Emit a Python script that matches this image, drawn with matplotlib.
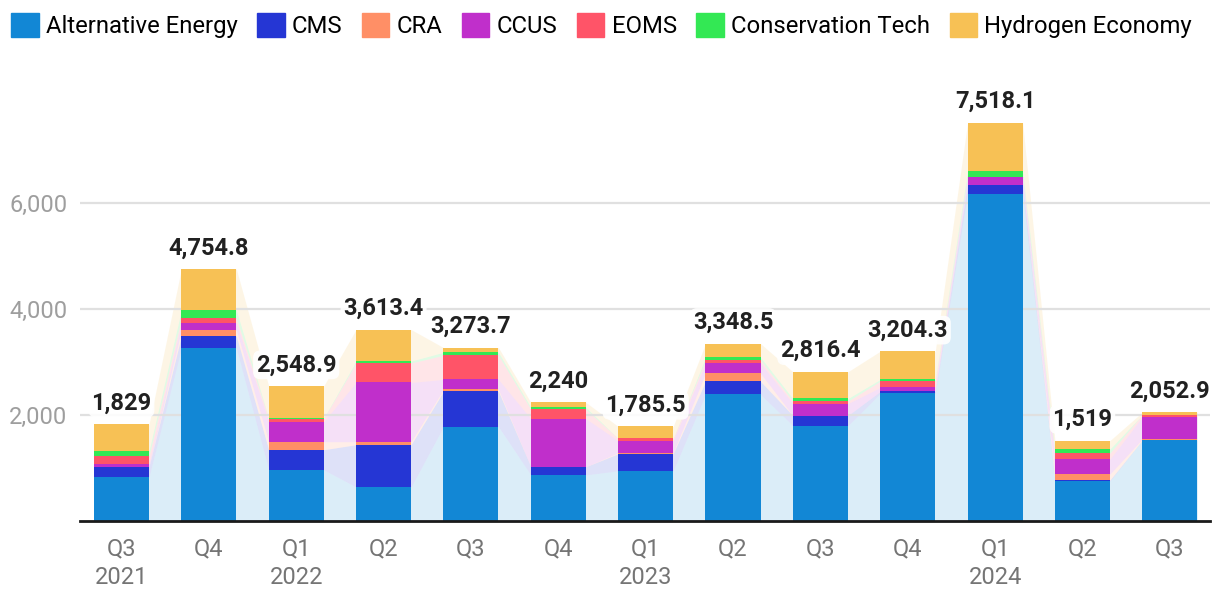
import matplotlib
matplotlib.use("Agg")
import matplotlib.pyplot as plt
from matplotlib.patches import Rectangle
import numpy as np

plt.rcParams['font.family'] = ['Roboto', 'DejaVu Sans']

quarters = ["Q3\n2021", "Q4", "Q1\n2022", "Q2", "Q3", "Q4", "Q1\n2023", "Q2", "Q3", "Q4", "Q1\n2024", "Q2", "Q3"]

series_names = ["Alternative Energy", "CMS", "CRA", "CCUS", "EOMS", "Conservation Tech", "Hydrogen Economy"]
colors = ["#1287D5", "#2536D4", "#FF8F66", "#C02FCB", "#FF5468", "#33E854", "#F7C155"]

alternative_energy = [834, 3259, 966, 644, 1781, 872, 948, 2388, 1800, 2407, 6180, 755, 1528]
cms = [190, 228, 379, 796, 664, 151, 322, 246, 190, 38, 169, 19, 0]
cra = [0, 113, 152, 57, 37, 0, 19, 152, 0, 0, 0, 113, 19]
ccus = [57, 133, 379, 1118, 190, 910, 227, 189, 227, 75, 151, 283, 415]
eoms = [150, 89, 57, 366, 455, 176, 44, 57, 44, 120, 0, 113, 44]
conservation_tech = [95, 158, 10, 38, 57, 38, 0, 57, 51, 32, 113, 76, 0]
hydrogen_economy = [503, 774.8, 605.9, 594.4, 89.7, 93, 225.5, 259.5, 504.4, 532.3, 905.1, 160, 46.9]

data = [alternative_energy, cms, cra, ccus, eoms, conservation_tech, hydrogen_economy]

fig = plt.figure(figsize=(12.2, 6.1), dpi=100)
ax = fig.add_axes([80/1220, 1-521/610, 1130/1220, 461/610])

n = len(quarters)
x = np.arange(n)
w = 0.63

# background stream areas
xs = np.ravel(np.column_stack([x - w/2, x + w/2]))
bottom = np.zeros(n)
for vals, c in zip(data, colors):
    v = np.array(vals, dtype=float)
    top = bottom + v
    ax.fill_between(xs, np.repeat(bottom, 2), np.repeat(top, 2), color=c, alpha=0.15, lw=0, zorder=1)
    bottom = top

# bars
bottom = np.zeros(n)
for vals, c, name in zip(data, colors, series_names):
    v = np.array(vals, dtype=float)
    ax.bar(x, v, width=w, bottom=bottom, color=c, lw=0, zorder=3, label=name)
    bottom = bottom + v

totals = bottom
for xi, t in zip(x, totals):
    s = f"{t:,.1f}"
    if s.endswith(".0"):
        s = s[:-2]
    ax.annotate(s, (xi, t), xytext=(0, 10.5), textcoords="offset points",
                ha="center", va="baseline", fontsize=17, fontweight="bold", color="#212121",
                bbox=dict(boxstyle="round,pad=0.12,rounding_size=0.3", fc="white", ec="none", alpha=0.9),
                zorder=5)

ax.set_xlim(-0.475, n - 1 + 0.46)
ax.set_ylim(0, 8700)
ax.set_yticks([2000, 4000, 6000])
ax.set_yticklabels(["2,000", "4,000", "6,000"])
ax.set_xticks(x)
ax.set_xticklabels(quarters, linespacing=1.32)
ax.tick_params(axis="y", length=0, pad=9, labelsize=17, labelcolor="#9E9E9E")
ax.tick_params(axis="x", length=0, pad=12, labelsize=17, labelcolor="#757575")
ax.yaxis.grid(True, color="#E0E0E0", lw=1.6, zorder=2)
ax.set_axisbelow(False)
for sp in ["top", "right", "left"]:
    ax.spines[sp].set_visible(False)
ax.spines["bottom"].set_color("#1a1a1a")
ax.spines["bottom"].set_linewidth(2)
ax.spines["bottom"].set_zorder(6)

# legend
handles = [Rectangle((0, 0), 1, 1, color=c) for c in colors]
fig.legend(handles, series_names, loc="upper left", bbox_to_anchor=(4/1220, 1-6/610),
           ncol=7, frameon=False, fontsize=17.2, handlelength=1.15, handleheight=1.15,
           handletextpad=0.3, columnspacing=0.82, borderaxespad=0, borderpad=0.3)

fig.savefig("out.png", dpi=100)
